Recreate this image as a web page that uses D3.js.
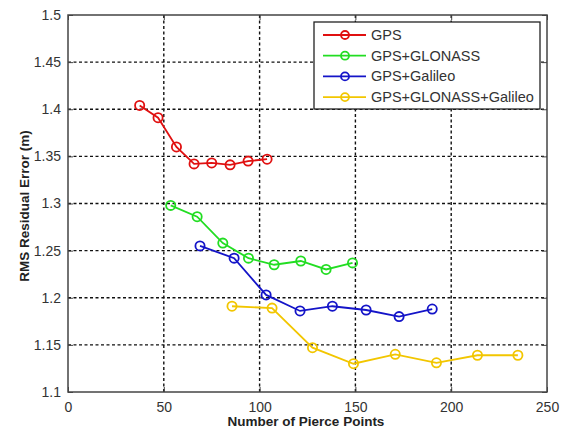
<!DOCTYPE html>
<html>
<head>
<meta charset="utf-8">
<script src="https://cdn.jsdelivr.net/npm/d3@7"></script>
<style>
  body { margin: 0; background: #fff; }
  svg text { font-family: "Liberation Sans", Arial, sans-serif; }
</style>
</head>
<body>
<div id="chart"></div>
<script>
// Data
const gpsX = [37.4, 47, 56.6, 65.8, 75, 84.6, 94, 103.9];
const gpsY = [1.404, 1.391, 1.360, 1.342, 1.343, 1.341, 1.345, 1.347];
const gloX = [53.6, 67.4, 80.8, 94.2, 107.6, 121.5, 134.7, 148.5];
const gloY = [1.298, 1.286, 1.258, 1.242, 1.235, 1.239, 1.230, 1.237];
const galX = [68.9, 86.7, 103.4, 121.1, 138, 155.6, 172.8, 190.1];
const galY = [1.255, 1.242, 1.203, 1.186, 1.191, 1.187, 1.180, 1.188];
const allX = [85.6, 106.5, 127.6, 149, 170.8, 192.3, 213.7, 234.8];
const allY = [1.191, 1.189, 1.147, 1.130, 1.140, 1.131, 1.139, 1.139];

const seriesNames = ['GPS', 'GPS+GLONASS', 'GPS+Galileo', 'GPS+GLONASS+Galileo'];
const seriesColors = ['#e01010', '#22dd22', '#1414c8', '#f2c600'];
const xTicks = [0, 50, 100, 150, 200, 250];
const yTicks = [1.1, 1.15, 1.2, 1.25, 1.3, 1.35, 1.4, 1.45, 1.5];

const series = [
  [gpsX, gpsY], [gloX, gloY], [galX, galY], [allX, allY]
].map((s, i) => ({
  name: seriesNames[i],
  color: seriesColors[i],
  points: s[0].map((x, j) => [x, s[1][j]])
}));

// Set up dimensions
const W = 567, H = 432;
const margin = {top: 15, right: 20, bottom: 40, left: 68};
const width = W - margin.left - margin.right;
const height = H - margin.top - margin.bottom;

const svg = d3.select('#chart')
  .append('svg')
    .attr('width', W)
    .attr('height', H);

const g = svg.append('g')
  .attr('transform', `translate(${margin.left},${margin.top})`);

const x = d3.scaleLinear().domain([0, 250]).range([0, width]);
const y = d3.scaleLinear().domain([1.1, 1.5]).range([height, 0]);

// Grid lines (dotted, MATLAB style)
g.append('g')
  .selectAll('line')
  .data(xTicks.slice(1, -1))
  .join('line')
    .attr('x1', d => x(d)).attr('x2', d => x(d))
    .attr('y1', 0).attr('y2', height)
    .attr('stroke', '#111')
    .attr('stroke-width', 1.4)
    .attr('stroke-dasharray', '3,2.5');

g.append('g')
  .selectAll('line')
  .data(yTicks.slice(1, -1))
  .join('line')
    .attr('x1', 0).attr('x2', width)
    .attr('y1', d => y(d)).attr('y2', d => y(d))
    .attr('stroke', '#111')
    .attr('stroke-width', 1.4)
    .attr('stroke-dasharray', '3,2.5');

// Axes
const xAxis = g.append('g')
  .attr('transform', `translate(0,${height})`)
  .call(d3.axisBottom(x).tickValues(xTicks).tickSize(-5).tickPadding(10));
const yAxis = g.append('g')
  .call(d3.axisLeft(y).tickValues(yTicks).tickSize(-5).tickPadding(7)
    .tickFormat(d => d3.format('')(+d.toFixed(2))));

[xAxis, yAxis].forEach(a => {
  a.select('.domain').remove();
  a.selectAll('line').attr('stroke', '#444');
  a.selectAll('text')
    .style('font-size', '14px')
    .style('fill', '#333');
});

// Top / right ticks
g.append('g')
  .call(d3.axisTop(x).tickValues(xTicks).tickSize(-5).tickFormat(''))
  .call(a => a.select('.domain').remove())
  .selectAll('line').attr('stroke', '#444');
g.append('g')
  .attr('transform', `translate(${width},0)`)
  .call(d3.axisRight(y).tickValues(yTicks).tickSize(-5).tickFormat(''))
  .call(a => a.select('.domain').remove())
  .selectAll('line').attr('stroke', '#444');

// Frame
g.append('rect')
  .attr('width', width)
  .attr('height', height)
  .attr('fill', 'none')
  .attr('stroke', '#444')
  .attr('stroke-width', 1.5);

// Lines and markers
const line = d3.line()
  .x(d => x(d[0]))
  .y(d => y(d[1]));

series.forEach(s => {
  g.append('path')
    .datum(s.points)
    .attr('fill', 'none')
    .attr('stroke', s.color)
    .attr('stroke-width', 1.8)
    .attr('d', line);

  g.selectAll(null)
    .data(s.points)
    .join('circle')
      .attr('cx', d => x(d[0]))
      .attr('cy', d => y(d[1]))
      .attr('r', 4.6)
      .attr('fill', 'none')
      .attr('stroke', s.color)
      .attr('stroke-width', 1.8);
});

// Axis labels
svg.append('text')
  .attr('x', 306)
  .attr('y', 426)
  .attr('text-anchor', 'middle')
  .style('font-size', '13.5px')
  .style('font-weight', 'bold')
  .style('fill', '#222')
  .text('Number of Pierce Points');

svg.append('text')
  .attr('transform', 'rotate(-90)')
  .attr('x', -206)
  .attr('y', 29)
  .attr('text-anchor', 'middle')
  .style('font-size', '13.5px')
  .style('font-weight', 'bold')
  .style('fill', '#222')
  .text('RMS Residual Error (m)');

// Legend
const legend = svg.append('g').attr('transform', 'translate(314,22)');
legend.append('rect')
  .attr('width', 226)
  .attr('height', 87)
  .attr('fill', '#fff')
  .attr('stroke', '#222')
  .attr('stroke-width', 1.3);

series.forEach((s, i) => {
  const ly = 13 + i * 20.7;
  legend.append('line')
    .attr('x1', 9).attr('x2', 52)
    .attr('y1', ly).attr('y2', ly)
    .attr('stroke', s.color)
    .attr('stroke-width', 1.8);
  legend.append('circle')
    .attr('cx', 31).attr('cy', ly)
    .attr('r', 4)
    .attr('fill', 'none')
    .attr('stroke', s.color)
    .attr('stroke-width', 1.8);
  legend.append('text')
    .attr('x', 57)
    .attr('y', ly + 5)
    .style('font-size', '14.5px')
    .style('fill', '#333')
    .text(s.name);
});
</script>
</body>
</html>
